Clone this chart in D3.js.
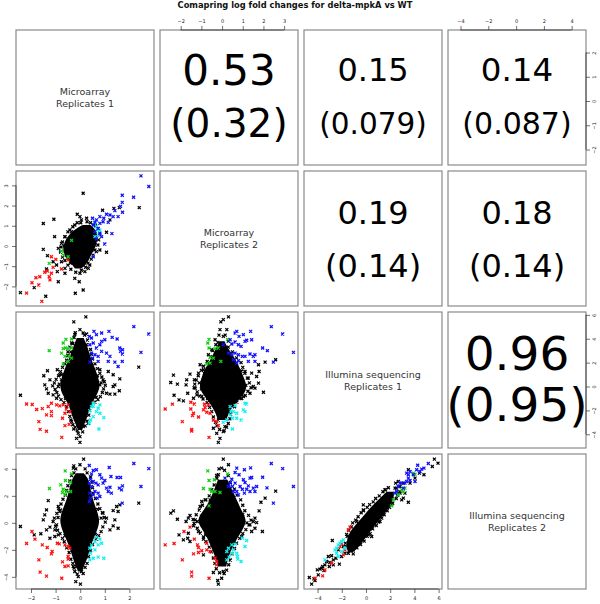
<!DOCTYPE html>
<html>
<head>
<meta charset="utf-8">
<script src="https://cdn.jsdelivr.net/npm/d3@7"></script>
<style>
  html, body { margin: 0; padding: 0; background: #fff; }
  svg { display: block; font-family: "DejaVu Sans", sans-serif; }
</style>
</head>
<body>
<svg id="chart" width="600" height="604"></svg>
<script>
// all values are log fold changes, [x, y]
// blobs: the solid black core, one row per [y, xLeft, xRight]
// edges: black points read around the rim of that core

const title = "Comapring log fold changes for delta-mpkA vs WT";
const names = [["Microarray", "Replicates 1"], ["Microarray", "Replicates 2"],
  ["Illumina sequencing", "Replicates 1"], ["Illumina sequencing", "Replicates 2"]];

// correlations, upper triangle
const corrPearson = ["0.53", "0.15", "0.14", "0.19", "0.18", "0.96"];
const corrSpearman = ["(0.32)", "(0.079)", "(0.087)", "(0.14)", "(0.14)", "(0.95)"];

// tick labels
const ticksM1 = [-2, -1, 0, 1, 2];
const ticksM2 = [-2, -1, 0, 1, 2, 3];
const ticksI1 = [-4, -2, 0, 2, 4, 6];
const ticksI2 = [-4, -2, 0, 2, 4];

// Microarray 2 vs Microarray 1
const m2m1Blob = [[1.04,.1,.42],[.79,-.26,.64],[.54,-.46,.7],[.3,-.6,.7],[.05,-.67,.64],[-.2,-.7,.57],[-.45,-.66,.43],[-.69,-.52,.36],[-.94,-.31,.22],[-1.11,-.22,.05]];
const m2m1Edge = [[.02,1.15],[-.12,1.15],[-.3,.95],[-.5,.7],[-.62,.45],[-.72,.2],[-.78,-.05],[-.8,-.3],[-.72,-.55],[-.62,-.72],[-.5,-.95],[-.38,-1.15],[-.18,-1.3],[.05,-1.2],[.22,-1.05],[.32,-.85],[.45,-.65],[.52,-.45],[.6,-.2],[.72,.05],[.75,.3],[.8,.55],[.72,.85],[.62,1],[.42,1.15],[.28,1.2],[-.65,0],[-.4,-.85],[.3,.95]];
const m2m1Black = [[.12,2.61],[-1.5,1.11],[-1.07,1.32],[-1.04,.46],[2.4,1.9],[-2.43,-2.31],[-1.4,-2.49],[-1.87,-2.06],[-.2,-2.34],[.12,-2.18],[-.89,-1.77],[-.93,-1.27],[-1.5,-.17],[-1.33,-.48],[-.89,-.12],[-.76,.13],[-.62,.46],[-.35,.71],[-.12,1.57],[-.01,1.45],[.26,1.37],[.91,1.77],[1.37,1.86],[1.59,1.9],[1.07,.68],[1.07,-.31],[.8,-.2],[.33,-1.11],[.19,-1.27],[-.01,-1.35],[-.22,-1.6],[-.04,-1.77],[-.62,-1.35],[-.62,-1.11],[-.96,-.94],[-1.37,-1.14],[-1.1,-.78],[-.76,-.78],[.05,1.29],[-.22,1.04],[-.42,.79],[1.21,1.29],[.39,-.94],[.66,-.28],[.6,.05]];
const m2m1Blue = [[2.47,3.47],[2.79,2.94],[2.17,2.41],[1.71,2.51],[1.71,2.16],[1.64,1.96],[1.72,1.67],[1.41,1.75],[1.34,1.45],[1.54,1.45],[1.07,1.57],[1.21,1.53],[.96,1.37],[.8,1.45],[.5,1.37],[.66,1.29],[.8,1.12],[.93,1.2],[1.14,1.17],[1.29,.61],[1,.1],[.53,-.53],[.73,.87],[.6,.71],[.8,.63],[.87,.46],[.66,.35],[.53,1.04],[.6,1.17]];
const m2m1Cyan = [[.6,1.2],[.66,.96],[.8,.79],[.73,.55],[.6,.46],[.69,.79]];
const m2m1Green = [[-.35,.28],[-.76,-.25],[-.49,-.53],[-1.26,-.86],[-.69,-.45]];
const m2m1Red = [[-1.17,-.53],[-.99,-.66],[-1.44,-1.3],[-1.34,-1.24],[-1.17,-1.35],[-1.64,-1.52],[-1.8,-1.57],[-1.96,-1.82],[-1.68,-1.93],[-2.18,-2.33],[-1.56,-2.74],[-1.26,-1.52],[-.76,-1.14],[-.49,-.69],[-1.1,-1.06],[-1.23,-1.68]];

// Illumina 1 vs Microarray 1
const i1m1Blob = [[4.06,-.14,.14],[3.22,-.3,.32],[2.38,-.44,.42],[1.54,-.62,.6],[.7,-.76,.74],[0,-.84,.82],[-.7,-.72,.68],[-1.54,-.45,.42],[-2.38,-.35,.32],[-3.08,-.2,.18],[-3.64,-.09,.08]];
const i1m1Edge = [[-.2,4.5],[-.25,4.1],[-.3,3.6],[-.42,3.3],[-.38,2.9],[-.5,2.6],[-.55,2.2],[-.62,1.9],[-.72,1.6],[-.8,1.25],[-.88,.9],[-.98,.6],[-1.05,.3],[-1.12,.05],[-1.02,-.25],[-.95,-.5],[-.88,-.8],[-.78,-1.1],[-.66,-1.35],[-.55,-1.7],[-.48,-2.1],[-.42,-2.5],[-.38,-2.8],[-.3,-3.2],[-.2,-3.4],[-.12,-3.7],[-.85,.2],[-.75,1],[-.6,-1],[-.5,2.9],[-.45,1.9],[.18,4.3],[.3,3.9],[.25,3.5],[.42,3.1],[.45,2.7],[.5,2.3],[.6,1.9],[.7,1.5],[.8,1.1],[.88,.8],[.98,.4],[1.02,.1],[.95,-.2],[.9,-.5],[.82,-.85],[.72,-1.1],[.6,-1.3],[.42,-1.6],[.38,-2],[.35,-2.4],[.28,-2.9],[.2,-3.3],[.1,-3.8],[.85,.3],[.7,.9],[.65,-.9],[.55,1.4]];
const i1m1Black = [[-.26,5.41],[.23,5.83],[-.01,4.76],[2.38,1.62],[-2.43,-.73],[-1.33,1.32],[-1.48,.9],[-.93,1.4],[-.83,.98],[-1.44,.14],[-1.37,-.2],[-1.23,.56],[1.61,.64],[1.34,.98],[1.14,1.26],[1.41,.14],[1.34,0],[1.59,-.36],[1.21,-.64],[1.07,-.56],[1.41,-.64],[-1.3,-.56],[-1.1,-.7],[-.89,0],[-.96,-.98],[-.01,-4.68],[-.15,-4.34],[-.08,-3.92],[-.01,-4.2],[-.35,-2.94],[.12,-3.36],[.33,-3.08],[-.15,-2.8],[-.26,-3.56],[.93,.56],[.8,.14],[.8,1.4],[-.22,4.34],[.12,4.48],[-.35,3.64],[.26,4.4],[-.42,1.54],[-.76,.56]];
const i1m1Blue = [[2.18,5.01],[2.79,4.4],[2.47,2.86],[1.17,4.62],[.87,4.48],[.56,4.62],[.37,4.2],[.46,4.06],[.66,4.34],[1.3,4.12],[1.5,3.98],[1,3.92],[.87,3.78],[.8,3.5],[.53,3.64],[.39,3.5],[.66,3.22],[.46,2.8],[.6,2.66],[.39,2.04],[.73,2.52],[.87,2.94],[1.07,2.8],[1.21,2.52],[1.14,2.1],[1.41,2.04],[1.61,3.22],[1.72,3.08],[1.64,2.94],[1.72,2.72],[1.54,1.68],[1.71,2.1],[.5,2.38],[.73,2.1]];
const i1m1Cyan = [[.53,-1.4],[.8,-1.54],[.46,-1.68],[.39,-2.04],[.66,-2.1],[.8,-2.24],[.96,-2.61],[.53,-2.52],[.42,-2.8],[.37,-3.08],[.76,-3.56],[.73,-1.82],[.53,-1.68]];
const i1m1Green = [[-.58,3.95],[-.35,3.98],[-1.26,3],[-.69,3.64],[-.49,3.17],[-.35,3.22],[-.76,2.8],[-.69,3.17],[-.62,2.52],[-.45,2.52],[-.49,2.1],[-.69,1.88],[-.6,3.22],[-.35,2.38]];
const i1m1Red = [[-2.18,-1.46],[-1.95,-1.51],[-1.77,-1.93],[-1.54,-1.85],[-1.37,-2.38],[-1.17,-2.1],[-1.17,-2.44],[-1.68,-2.94],[-1.63,-3.59],[-1.37,-3.75],[-.75,-4.26],[-.62,-3.28],[-.45,-3.17],[-.72,-2.66],[-.62,-2.24],[-.42,-2.1],[-.49,-1.54],[-.69,-1.54],[-.96,-1.54],[-1.17,-1.4],[-1.3,-1.68],[-.56,-1.88],[-.83,-1.62]];

// Illumina 2 vs Microarray 1
const i2m1Blob = [[3.68,-.17,.14],[3.19,-.35,.37],[2.44,-.45,.42],[1.7,-.55,.52],[.96,-.73,.67],[.22,-.84,.8],[-.4,-.76,.72],[-1.01,-.62,.58],[-1.75,-.44,.42],[-2.49,-.32,.32],[-3.11,-.2,.17],[-3.6,-.09,.08]];
const i2m1Edge = [[-.18,4],[-.25,3.7],[-.35,3.5],[-.42,3.1],[-.5,2.75],[-.55,2.4],[-.6,2.05],[-.7,1.75],[-.78,1.4],[-.88,1.05],[-.95,.7],[-1.05,.35],[-1.1,.1],[-1,-.25],[-.92,-.55],[-.82,-.8],[-.72,-1.15],[-.65,-1.4],[-.55,-1.85],[-.45,-2.2],[-.38,-2.7],[-.3,-3],[-.25,-3.35],[-.12,-3.8],[-.9,.4],[-.8,.95],[-.62,-.95],[.2,4],[.28,3.7],[.42,3.4],[.48,3],[.5,2.6],[.52,2.2],[.62,1.8],[.72,1.4],[.8,1.05],[.9,.75],[.98,.4],[1.02,.05],[.92,-.3],[.85,-.65],[.75,-.95],[.65,-1.2],[.5,-1.6],[.42,-2.05],[.34,-2.5],[.28,-3],[.2,-3.3],[.12,-3.75],[.85,.35],[.7,1],[.62,-.85]];
const i2m1Black = [[.14,4.72],[-.26,4.22],[-1.3,1.65],[-2.43,-.27],[2.38,1.46],[-.01,4.3],[-.28,4.05],[-1.44,.59],[-1.5,.22],[-1.37,.96],[-.89,1.21],[-.83,.84],[-1.87,-.89],[-1.6,-.81],[-1.37,-.52],[-1.23,-.32],[-1.03,-.52],[-.96,-.15],[-1.23,-1.14],[-1.03,-1.01],[-.89,-.89],[1.48,1.21],[1.34,.91],[1.54,.84],[1.41,.22],[1.07,.35],[1.34,-.22],[1.54,-.4],[1.61,1.33],[1.21,-.52],[.93,.72],[.01,-4.54],[-.18,-4.35],[-.08,-3.98],[-.22,-3.6],[.05,-3.6],[-.28,-3.23],[-.15,-3.23]];
const i2m1Blue = [[2.18,4.4],[2.79,4.02],[2.47,2.69],[1.71,1.46],[1.18,4.1],[.66,3.93],[.37,4.25],[.53,3.88],[.46,3.63],[1.25,3.43],[1.5,3.36],[1.64,3.36],[.8,3.56],[.87,3.31],[1,3.14],[.93,2.94],[.42,3.23],[.53,3.06],[.37,2.94],[.64,2.94],[.73,2.81],[.46,2.69],[.6,2.32],[.39,2.2],[.53,2.07],[.73,2.2],[.8,1.95],[.42,1.83],[.37,1.58],[1.07,2.57],[1.21,2.64],[1.14,2.32],[1.27,2.2],[1.59,2.57],[1.72,2.74],[1.68,2.44],[.69,1.83]];
const i2m1Cyan = [[.66,-1.06],[.8,-1.21],[.6,-1.38],[.46,-1.63],[.39,-1.88],[.73,-1.63],[.87,-1.51],[.6,-2],[.42,-2.25],[.73,-2.54],[.96,-2.62],[.53,-2.62],[.39,-2.74]];
const i2m1Green = [[-.61,3.85],[-.35,3.63],[-.79,2.81],[-.6,3.14],[-.39,3.01],[-1.25,2.54],[-.69,2.49],[-.72,2.25],[-.56,2.32],[-.39,2.32],[-.62,2.07]];
const i2m1Red = [[-1.96,-.64],[-2.18,-1.53],[-1.84,-1.21],[-1.54,-1.63],[-1.34,-1.83],[-1.68,-2.74],[-1.63,-3.65],[-1.37,-3.95],[-.75,-4.1],[-1.14,-2.12],[-1.17,-2.3],[-.49,-2.49],[-.49,-2.69],[-.72,-2.89],[-.62,-3.23],[-.49,-3.19],[-.49,-1.75],[-.42,-1.88],[-.62,-1.63],[-.85,-1.56],[-.93,-1.51]];

// Illumina 1 vs Microarray 2
const i1m2Blob = [[3.78,-.12,.12],[3.22,-.3,.27],[2.38,-.5,.62],[1.54,-.82,.86],[.7,-1,1.06],[0,-1.12,1.22],[-.7,-.92,1.06],[-1.4,-.58,.62],[-2.1,-.34,.36],[-2.8,-.2,.2]];
const i1m2Edge = [[-.15,4.3],[-.2,3.7],[-.3,3.5],[-.45,3],[-.55,2.5],[-.72,2.1],[-.9,1.7],[-1,1.35],[-1.15,.9],[-1.25,.55],[-1.32,.2],[-1.35,-.1],[-1.2,-.45],[-1.08,-.8],[-.92,-1.05],[-.72,-1.35],[-.6,-1.75],[-.5,-2.1],[-.42,-2.55],[-.32,-3],[-.25,-3.3],[-.12,-3.6],[-1.1,.3],[-1,-.2],[-.85,1.1],[-.7,-1],[.15,4.3],[.3,3.8],[.3,3.3],[.5,2.9],[.7,2.4],[.92,2],[1,1.6],[1.1,1.1],[1.22,.7],[1.32,.3],[1.4,-.1],[1.25,-.4],[1.12,-.75],[.95,-1],[.72,-1.3],[.6,-1.7],[.42,-2.3],[.38,-2.7],[.3,-3.1],[.22,-3.4],[.1,-3.7],[1.15,.1],[.95,1.3],[.8,-.8]];
const i1m2Black = [[.31,5.83],[.06,5.6],[-.06,5.41],[-2.35,.95],[-2.48,.34],[-2.16,.2],[-1.55,1.04],[-1.71,.56],[-2.32,-.73],[-2.08,-1.12],[-1.87,-1.2],[-1.66,-.56],[-1.74,.14],[-1.34,.56],[-1.3,-.14],[-1.22,-.7],[-1.38,-.98],[2.59,2.24],[2.08,2.04],[1.76,1.82],[1.79,1.26],[1.43,1.12],[1.76,.28],[1.59,-.14],[2,-.48],[1.35,-.56],[1.51,0],[.23,4.76],[-.1,4.76],[-.34,3.92],[.06,4.2],[-1.06,1.82],[-1.14,1.12],[-.9,1.4],[-.66,2.66],[-.5,3.08],[-.18,-4.68],[-.1,-4.34],[-.26,-3.92],[.06,-3.78],[-.42,-3.5],[.14,-3.36],[-.18,-2.8],[1.11,1.26],[1.27,.7],[1.67,.84],[1.03,-.84],[.87,-.98],[-.98,-.84]];
const i1m2Blue = [[2.38,5.01],[2.93,4.4],[3.45,2.86],[1.96,3.22],[2.19,3],[2.48,2.04],[1.38,4.62],[1.03,4.34],[.71,4.62],[.63,4.48],[.82,4.2],[1.43,3.92],[1.19,3.87],[1.11,3.78],[.39,3.92],[.63,3.73],[.47,3.56],[.79,3.5],[.92,3.36],[.06,3.5],[1.35,2.72],[1.59,2.66],[1.51,2.52],[1.11,2.52],[.98,2.52],[.79,2.66],[.63,2.8],[.47,2.66],[.31,2.8],[.55,2.24],[.79,2.16],[1.59,2.1],[1.27,2.1],[.71,1.96]];
const i1m2Cyan = [[.39,-1.68],[.63,-1.6],[1.11,-1.4],[1.19,-1.46],[1.03,-1.96],[1.11,-2.1],[.55,-2.1],[.71,-2.24],[.39,-2.38],[.5,-2.66],[.92,-2.8],[.23,-2.8],[.06,-3],[.5,-3.56],[.71,-2.66],[.43,-2.04]];
const i1m2Green = [[-.63,3.95],[.27,3.95],[-.69,3.64],[-.63,3.22],[-.34,3.17],[-.18,3.22],[-.58,2.44],[-.42,2.38],[-.74,1.88],[-.58,1.96],[-.06,2.1]];
const i1m2Red = [[-2.75,-1.88],[-2.4,-1.48],[-1.51,-1.32],[-1.34,-1.46],[-1.51,-1.88],[-1.38,-2.24],[-1.43,-2.44],[-1.14,-2.55],[-.85,-1.49],[-.66,-1.54],[-.9,-1.96],[-.74,-2.16],[-.58,-2.24],[-1.92,-2.94],[-1.47,-3.59],[-1.47,-3.73],[-.63,-4.26],[-.42,-2.8],[-.26,-2.94],[-.18,-3.28],[-.82,-1.76]];

// Illumina 2 vs Microarray 2
const i2m2Blob = [[3.19,-.2,.26],[2.2,-.44,.56],[1.46,-.66,.78],[.84,-.94,.96],[.22,-1.22,1.2],[-.4,-1,1.04],[-1.01,-.74,.78],[-1.75,-.54,.52],[-2.49,-.33,.31],[-3.23,-.2,.2]];
const i2m2Edge = [[-.15,4],[-.25,3.3],[-.38,2.8],[-.5,2.45],[-.62,2],[-.78,1.7],[-.95,1.3],[-1.1,.95],[-1.25,.6],[-1.4,.25],[-1.35,-.05],[-1.2,-.4],[-1.05,-.75],[-.9,-1.05],[-.78,-1.4],[-.62,-1.8],[-.52,-2.15],[-.42,-2.6],[-.35,-3],[-.28,-3.4],[-.12,-3.7],[-1.2,.1],[-1,.5],[-.8,-.9],[.12,3.9],[.3,3.5],[.4,3],[.6,2.5],[.72,2.05],[.9,1.7],[1,1.3],[1.1,.9],[1.28,.55],[1.4,.2],[1.3,-.15],[1.15,-.5],[1,-.8],[.85,-1.15],[.7,-1.5],[.6,-1.9],[.48,-2.3],[.4,-2.75],[.32,-3.1],[.22,-3.5],[.1,-3.75],[1.2,0],[1,.6]];
const i2m2Black = [[.06,4.72],[-.26,3.51],[.31,4.3],[-.02,4.05],[-.18,3.56],[-2.35,.89],[-2.48,.72],[-2.16,.27],[-2.08,-.89],[-1.87,-1.26],[-1.66,-1.14],[-1.55,-1.38],[-1.63,-.77],[-1.74,.1],[-1.55,.54],[-1.63,.35],[-1.3,.22],[-1.38,-.22],[-1.14,-.64],[-.9,-1.21],[-.9,-2.37],[2.59,2.35],[2.08,1.83],[1.88,1.53],[1.79,.89],[1.59,.35],[1.51,.1],[1.67,.02],[1.95,-.64],[1.43,-.64],[1.59,-.4],[1.35,-.15],[-.18,-4.54],[-.21,-4.27],[-.42,-3.68],[.06,-3.6],[-.02,-4.1],[-.98,1.58],[-.82,1.7],[-1.06,1.21],[-.58,1.7],[.95,-1.01]];
const i2m2Blue = [[2.38,4.4],[2.93,4.02],[3.45,2.69],[1.96,3.38],[2.17,2.59],[2.48,1.46],[1.38,4.07],[1.35,3.31],[1.43,3.36],[1.08,3.93],[.71,4.05],[.82,3.56],[.63,3.73],[1.03,3.19],[1.11,2.99],[1.27,2.74],[1.67,2.69],[1.51,2.57],[1.59,2.32],[1.35,2.32],[1.19,2.49],[.98,2.49],[.71,2.32],[.79,2.07],[.63,2.94],[.47,3.23],[.39,2.94],[.5,2.69],[.14,3.31],[.31,2.69],[.55,2.32],[1.08,2.2],[.87,2.69]];
const i2m2Cyan = [[.98,-1.14],[1.19,-1.31],[1.11,-1.75],[.63,-1.58],[.47,-1.63],[.31,-1.88],[.23,-2.12],[.47,-2.25],[.34,-2.54],[.71,-2.25],[.74,-2.49],[.76,-2.69],[.92,-2.86],[.23,-2.74],[.55,-2]];
const i2m2Green = [[-.69,3.85],[.27,3.63],[-.37,3.19],[-.63,3.14],[-.9,2.54],[-.58,2.49],[-.5,2.32],[-.1,2.25],[-.34,2.32],[-.63,1.26]];
const i2m2Red = [[-2.75,-1.63],[-2.32,-1.53],[-1.84,-.64],[-1.55,-.32],[-1.34,-1.21],[-1.19,-1.63],[-1.14,-1.83],[-.74,-1.51],[-1.92,-2.74],[-1.38,-2.3],[-1.14,-2.2],[-.98,-2.07],[-.74,-2],[-.58,-2.12],[-.34,-2.62],[-.26,-2.86],[-1.47,-3.65],[-1.47,-3.95],[-.63,-4.1],[-.26,-3.11]];

// Illumina 2 vs Illumina 1
const i2i1Blob = [[2.3,1.7,2.3],[1.7,1,2.3],[1.21,.45,1.95],[.72,-.02,1.58],[.22,-.48,1.12],[-.27,-.98,.67],[-.77,-1.4,.26],[-1.26,-1.58,-.16],[-1.88,-1.62,-.72],[-2.2,-1.45,-1.1]];
const i2i1Edge = [[-1.7,-1.5],[-1.55,-1],[-1.6,-.85],[-1.42,-.55],[-1.2,-.3],[-1.1,0],[-.85,.2],[-.65,.45],[-.4,.75],[-.2,.9],[.1,1.15],[.3,1.35],[.6,1.55],[.8,1.8],[1.1,2],[1.4,2.3],[1.6,2.45],[1.85,2.6],[-1.05,-2.3],[-.75,-1.85],[-.45,-1.6],[-.15,-1.35],[.1,-1],[.35,-.8],[.55,-.45],[.85,-.2],[1.05,.05],[1.3,.35],[1.5,.6],[1.75,.9],[1.95,1.15],[2.2,1.45],[2.5,1.8],[2.6,2.05],[2.8,2.3]];
const i2i1Black = [[5.65,4.72],[5.95,4.42],[5.48,4.17],[4.79,3.56],[3.5,1.53],[-.22,1.33],[-2.78,-1.31],[-4.68,-4.05],[-4.49,-4.54],[-4.21,-4.27],[-4.3,-4.15],[-3.94,-3.85],[-4.02,-3.48],[-3.8,-3.43],[-3.39,-3.11],[-3.58,-3.23],[-3.47,-3.53],[-3.03,-3.23],[-2.7,-3.11],[-2.2,-3.06],[-3.11,-2.49],[-2.84,-2.44],[-2.48,-2.62],[-2.01,-2.49],[-1.74,-2.25],[-1.6,-1.75],[1.57,2.44],[2.45,2.94],[2.67,3.06],[2.81,2.2],[2.95,1.7],[3.22,2.2],[3.09,1.83],[4.41,3.68],[4.05,3.31],[3.5,3.93],[2.53,2.57],[2.81,2.69],[-.22,.96],[-.77,.1],[.47,-1.01],[.19,-.89],[1.16,.1],[1.43,.84],[2.12,1.33],[-1.46,-2.25],[-1.05,-2],[-3.25,-2.86],[-2.98,-2.94],[-2.7,-2.74],[-3.66,-3.36],[-2.29,-2],[-1.87,-1.75],[2.12,1.95],[2.4,2.57],[3.09,2.94],[3.64,2.94]];
const i2i1Blue = [[4.27,4.27],[5.15,4.4],[4.79,4.05],[4.6,3.98],[4.46,3.8],[3.91,3.56],[4.05,3.06],[3.64,3.14],[3.5,3.31],[3.36,3.06],[2.95,2.94],[2.67,2.69],[2.53,2.32],[2.4,2.2],[3.5,3.56],[3.22,2.94],[3.36,3.68],[2.81,2.94],[3.09,2.57],[3.64,3.8],[4.19,3.93]];
const i2i1Cyan = [[-2.29,-1.63],[-2.15,-1.51],[-2.01,-1.38],[-2.42,-1.88],[-2.56,-2],[-1.87,-1.26],[-2.42,-2.25],[-2.01,-2.12],[-1.74,-1.88],[-3.39,-2.74],[-2.29,-2.49]];
const i2i1Green = [[3.91,3.68],[4.05,3.6],[3.09,2.32],[2.53,2.25],[3.22,2.57],[2.26,1.7],[2.12,1.26],[2.95,2.44],[2.67,2.07]];
const i2i1Red = [[-1.32,-.32],[-1.46,-.52],[-2.01,-1.56],[-2.15,-1.75],[-1.74,-2],[-2.84,-2.99],[-3.58,-3.93],[-4.21,-4.1],[-3.39,-3.48],[-1.87,-2.37]];

const svg = d3.select("#chart");

// pixel box of each column and row of the matrix
const colBox = [[16, 154], [160, 298], [304, 442], [448, 586]];
const rowBox = [[30, 165], [171, 306], [312, 448], [454, 589]];

const xScales = [
  d3.scaleLinear().domain([-2.61, 3.0]).range(colBox[0]),
  d3.scaleLinear().domain([-3.0, 3.67]).range(colBox[1]),
  d3.scaleLinear().domain([-5.12, 6.28]).range(colBox[2]),
  d3.scaleLinear().domain([-4.9, 5.03]).range(colBox[3])
];
const yScales = [
  d3.scaleLinear().domain([2.93, -2.64]).range(rowBox[0]),
  d3.scaleLinear().domain([3.71, -2.97]).range(rowBox[1]),
  d3.scaleLinear().domain([6.24, -5.15]).range(rowBox[2]),
  d3.scaleLinear().domain([5.1, -4.9]).range(rowBox[3])
];

const colours = { black: "#000", blue: "#1010ff", cyan: "#10f0f0", green: "#10d010", red: "#ff1010" };
const cross = d3.symbol(d3.symbolTimes, 7)();

// frames first
for (let r = 0; r < 4; r++) {
  for (let c = 0; c < 4; c++) {
    svg.append("rect")
      .attr("x", colBox[c][0]).attr("y", rowBox[r][0])
      .attr("width", colBox[c][1] - colBox[c][0])
      .attr("height", rowBox[r][1] - rowBox[r][0])
      .attr("fill", "#fff").attr("stroke", "#8a8a8a").attr("stroke-width", 1.2);
  }
}

// scatter panels, lower triangle
const scatterPanels = [
  { r: 1, c: 0, blob: m2m1Blob, edge: m2m1Edge, black: m2m1Black, blue: m2m1Blue, cyan: m2m1Cyan, green: m2m1Green, red: m2m1Red },
  { r: 2, c: 0, blob: i1m1Blob, edge: i1m1Edge, black: i1m1Black, blue: i1m1Blue, cyan: i1m1Cyan, green: i1m1Green, red: i1m1Red },
  { r: 3, c: 0, blob: i2m1Blob, edge: i2m1Edge, black: i2m1Black, blue: i2m1Blue, cyan: i2m1Cyan, green: i2m1Green, red: i2m1Red },
  { r: 2, c: 1, blob: i1m2Blob, edge: i1m2Edge, black: i1m2Black, blue: i1m2Blue, cyan: i1m2Cyan, green: i1m2Green, red: i1m2Red },
  { r: 3, c: 1, blob: i2m2Blob, edge: i2m2Edge, black: i2m2Black, blue: i2m2Blue, cyan: i2m2Cyan, green: i2m2Green, red: i2m2Red },
  { r: 3, c: 2, blob: i2i1Blob, edge: i2i1Edge, black: i2i1Black, blue: i2i1Blue, cyan: i2i1Cyan, green: i2i1Green, red: i2i1Red }
];

scatterPanels.forEach(p => {
  const x = xScales[p.c], y = yScales[p.r];
  const g = svg.append("g");

  const core = d3.area()
    .y(d => y(d[0])).x0(d => x(d[1])).x1(d => x(d[2]))
    .curve(d3.curveBasis);
  g.append("path").attr("d", core(p.blob)).attr("fill", "#000");

  ["edge", "black", "red", "green", "cyan", "blue"].forEach(name => {
    g.selectAll("path." + name)
      .data(p[name])
      .enter().append("path")
      .attr("class", name)
      .attr("d", cross)
      .attr("transform", d => "translate(" + x(d[0]) + "," + y(d[1]) + ")")
      .attr("stroke", name === "edge" ? colours.black : colours[name])
      .attr("stroke-width", 1.25)
      .attr("fill", "none");
  });
});

// diagonal labels
names.forEach((lines, i) => {
  const cx = (colBox[i][0] + colBox[i][1]) / 2;
  const cy = (rowBox[i][0] + rowBox[i][1]) / 2;
  lines.forEach((t, j) => {
    svg.append("text")
      .attr("x", cx).attr("y", cy + 1.5 + (j === 0 ? -4 : 8))
      .attr("text-anchor", "middle")
      .attr("font-size", 9.5).attr("fill", "#333")
      .text(t);
  });
});

// correlation panels, font size goes with the correlation
const corrCells = [
  { r: 0, c: 1, size0: 42, size1: 39, y0: 85, y1: 137 },
  { r: 0, c: 2, size0: 32, size1: 29.5, y0: 81, y1: 134 },
  { r: 0, c: 3, size0: 32.5, size1: 30, y0: 81, y1: 134 },
  { r: 1, c: 2, size0: 32, size1: 32, y0: 224, y1: 277 },
  { r: 1, c: 3, size0: 32, size1: 32, y0: 224, y1: 277 },
  { r: 2, c: 3, size0: 47, size1: 47, y0: 370, y1: 421 }
];
corrCells.forEach((cell, i) => {
  const cx = (colBox[cell.c][0] + colBox[cell.c][1]) / 2;
  [[corrPearson[i], cell.y0, cell.size0], [corrSpearman[i], cell.y1, cell.size1]].forEach(t => {
    svg.append("text")
      .attr("x", cx).attr("y", t[1])
      .attr("text-anchor", "middle")
      .attr("font-size", t[2]).attr("fill", "#000")
      .text(t[0]);
  });
});

// R style axes, line only spans the ticks
function drawAxis(side, scale, ticks, at) {
  const gen = { top: d3.axisTop, bottom: d3.axisBottom, left: d3.axisLeft, right: d3.axisRight }[side];
  const g = svg.append("g")
    .attr("transform", side === "top" || side === "bottom" ? "translate(0," + at + ")" : "translate(" + at + ",0)")
    .call(gen(scale).tickValues(ticks).tickSize(4).tickFormat(d3.format("d")));
  g.select(".domain").remove();
  const horiz = side === "top" || side === "bottom";
  const a = scale(ticks[0]), b = scale(ticks[ticks.length - 1]);
  g.append("line")
    .attr("x1", horiz ? a : 0).attr("x2", horiz ? b : 0)
    .attr("y1", horiz ? 0 : a).attr("y2", horiz ? 0 : b)
    .attr("stroke", "#333").attr("stroke-width", 0.8);
  g.selectAll(".tick line").attr("stroke", "#333").attr("stroke-width", 0.7);
  g.selectAll(".tick text")
    .attr("font-size", 5).attr("font-family", "DejaVu Sans").attr("fill", "#222");
  if (side === "left") {
    g.selectAll(".tick text").attr("transform", "rotate(-90)")
      .attr("x", 0).attr("y", -8).attr("dy", 0).attr("text-anchor", "middle");
  }
  if (side === "right") {
    g.selectAll(".tick text").attr("transform", "rotate(-90)")
      .attr("x", 0).attr("y", 10).attr("dy", 0).attr("text-anchor", "middle");
  }
  if (side === "top") g.selectAll(".tick text").attr("y", -7).attr("dy", 0);
  if (side === "bottom") g.selectAll(".tick text").attr("y", 11).attr("dy", 0);
}

drawAxis("bottom", xScales[0], ticksM1, rowBox[3][1]);
drawAxis("bottom", xScales[2], ticksI1, rowBox[3][1]);
drawAxis("top", xScales[1], ticksM2, rowBox[0][0]);
drawAxis("top", xScales[3], ticksI2, rowBox[0][0]);
drawAxis("left", yScales[1], [-2, -1, 0, 1, 2, 3], colBox[0][0]);
drawAxis("left", yScales[3], ticksI2, colBox[0][0]);
drawAxis("right", yScales[0], ticksM1, colBox[3][1]);
drawAxis("right", yScales[2], ticksI1, colBox[3][1]);

svg.append("text")
  .attr("x", 295).attr("y", 8)
  .attr("text-anchor", "middle")
  .attr("font-size", 8.3).attr("font-weight", "bold").attr("fill", "#111")
  .text(title);
</script>
</body>
</html>
